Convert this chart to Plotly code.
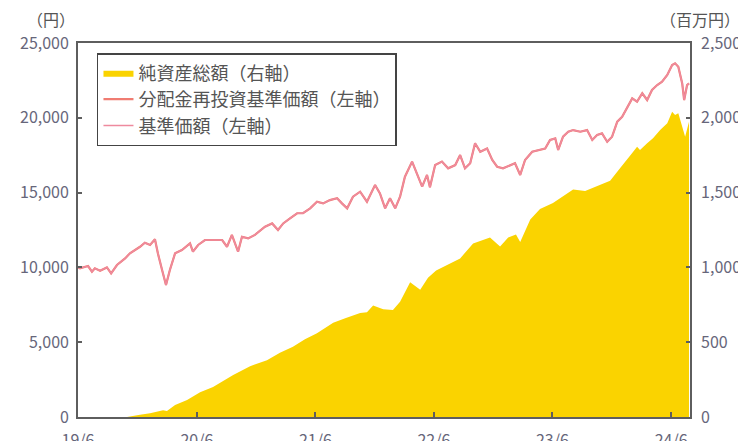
import plotly.graph_objects as go

# 基準価額 / 分配金再投資基準価額 (円, 左軸)
price_dates = [
    "2019-06-30", "2019-07-06", "2019-07-31", "2019-08-12", "2019-08-21", "2019-09-06",
    "2019-09-27", "2019-10-10", "2019-10-28", "2019-11-22", "2019-12-07", "2019-12-23",
    "2020-01-07", "2020-01-22", "2020-02-07", "2020-02-22", "2020-03-02", "2020-03-15",
    "2020-03-27", "2020-04-08", "2020-04-24", "2020-05-15", "2020-06-09", "2020-06-18",
    "2020-07-04", "2020-07-25", "2020-08-25", "2020-09-16", "2020-10-01", "2020-10-16",
    "2020-11-04", "2020-11-16", "2020-12-05", "2020-12-26", "2021-01-26", "2021-02-17",
    "2021-03-07", "2021-03-23", "2021-04-13", "2021-05-05", "2021-05-23", "2021-06-14",
    "2021-07-05", "2021-07-24", "2021-08-14", "2021-09-05", "2021-09-20", "2021-10-06",
    "2021-10-24", "2021-11-15", "2021-12-06", "2021-12-31", "2022-01-15", "2022-01-31",
    "2022-02-15", "2022-03-03", "2022-03-18", "2022-04-02", "2022-04-24", "2022-05-09",
    "2022-05-25", "2022-06-09", "2022-06-18", "2022-07-04", "2022-07-25", "2022-08-13",
    "2022-09-04", "2022-09-19", "2022-10-04", "2022-10-20", "2022-11-04", "2022-11-20",
    "2022-12-11", "2022-12-27", "2023-01-11", "2023-01-29", "2023-02-20", "2023-03-07",
    "2023-03-23", "2023-04-07", "2023-04-29", "2023-05-23", "2023-06-08", "2023-06-23",
    "2023-07-09", "2023-07-18", "2023-08-02", "2023-08-18", "2023-09-02", "2023-09-24",
    "2023-10-15", "2023-10-31", "2023-11-15", "2023-11-30", "2023-12-16", "2023-12-31",
    "2024-01-16", "2024-01-31", "2024-02-15", "2024-03-02", "2024-03-17", "2024-04-02",
    "2024-04-17", "2024-05-02", "2024-05-18", "2024-06-02", "2024-06-18", "2024-07-03",
    "2024-07-12", "2024-07-22", "2024-08-03", "2024-08-09", "2024-08-18", "2024-08-24",
]
price_values = [
    10000, 9940, 10090, 9710, 9940, 9780,
    10000, 9600, 10160, 10600, 10940, 11160,
    11380, 11650, 11500, 11880, 10940, 9830,
    8820, 9830, 10940, 11160, 11600, 11050,
    11500, 11830, 11830, 11830, 11380, 12170,
    11050, 12050, 11940, 12170, 12720, 12940,
    12500, 12940, 13280, 13620, 13620, 13950,
    14390, 14280, 14500, 14620, 14280, 13950,
    14730, 15060, 14390, 15510, 14950, 13950,
    14620, 13950, 14730, 16060, 17070, 16290,
    15400, 16180, 15350, 16840, 17070, 16620,
    16840, 17510, 16620, 16960, 18300, 17730,
    17950, 17180, 16730, 16620, 16840, 16960,
    16180, 17180, 17730, 17850, 17950, 18520,
    18620, 17850, 18740, 19070, 19180, 19070,
    19180, 18520, 18850, 18960, 18400, 18740,
    19740, 20070, 20630, 21300, 21080, 21640,
    21190, 21860, 22190, 22410, 22860, 23530,
    23640, 23410, 22300, 21190, 22190, 22300,
]

# 純資産総額 (百万円, 右軸)
nav_dates = [
    "2019-06-30", "2019-11-28", "2020-01-07", "2020-02-07", "2020-03-18", "2020-03-30",
    "2020-04-24", "2020-05-31", "2020-07-10", "2020-08-19", "2020-10-20", "2020-12-11",
    "2021-02-01", "2021-03-13", "2021-04-22", "2021-05-29", "2021-07-05", "2021-08-24",
    "2021-09-30", "2021-11-15", "2021-12-06", "2021-12-25", "2022-01-25", "2022-02-24",
    "2022-03-18", "2022-04-18", "2022-05-19", "2022-06-12", "2022-07-07", "2022-08-13",
    "2022-09-19", "2022-10-29", "2022-12-20", "2023-01-20", "2023-02-14", "2023-03-10",
    "2023-03-23", "2023-04-23", "2023-05-23", "2023-07-02", "2023-09-02", "2023-10-09",
    "2023-11-24", "2023-12-25", "2024-01-25", "2024-02-15", "2024-03-02", "2024-03-17",
    "2024-03-26", "2024-04-17", "2024-05-05", "2024-05-27", "2024-06-18", "2024-07-03",
    "2024-07-12", "2024-07-22", "2024-08-03", "2024-08-12", "2024-08-24",
]
nav_values = [
    0, 0, 15, 25, 45, 40,
    80, 113, 165, 200, 280, 340,
    380, 430, 470, 520, 560, 630,
    660, 695, 700, 745, 720, 715,
    770, 900, 850, 930, 980, 1020,
    1060, 1160, 1200, 1140, 1200, 1220,
    1170, 1320, 1390, 1430, 1520, 1510,
    1550, 1580, 1664, 1718, 1764, 1807,
    1785, 1830, 1863, 1918, 1963, 2041,
    2019, 2030, 1940, 1873, 1974,
]

tick_dates = ["2019-06-30", "2020-06-30", "2021-06-30", "2022-06-30", "2023-06-30", "2024-06-30"]
tick_labels = ["19/6", "20/6", "21/6", "22/6", "23/6", "24/6"]
left_ticks = [0, 5000, 10000, 15000, 20000, 25000]
right_ticks = [0, 500, 1000, 1500, 2000, 2500]

FONT = "Noto Sans CJK JP"
AXC = "#5e5e5e"
TXT = "#66667a"

# the page adds an 8px body margin; margins below are in figure pixels
OFF = 8
W, H = 746, 441
ML, MT = 78 - OFF, 43 - OFF
MR = W - (690 - OFF)
MB = H - (417 - OFF)

fig = go.Figure()
fig.add_trace(go.Scatter(
    x=nav_dates, y=nav_values, name="純資産総額（右軸）", yaxis="y",
    mode="lines", fill="tozeroy", fillcolor="#FAD300",
    line=dict(width=0, color="#FAD300"),
))
fig.add_trace(go.Scatter(
    x=price_dates, y=price_values, name="分配金再投資基準価額（左軸）", yaxis="y2",
    mode="lines", line=dict(width=2.2, color="#F07C72"),
))
fig.add_trace(go.Scatter(
    x=price_dates, y=price_values, name="基準価額（左軸）", yaxis="y2",
    mode="lines", line=dict(width=1.5, color="#EE8A9E"),
))

common_axis = dict(
    ticks="inside", tickcolor=AXC, tickwidth=1.5,
    showline=True, linecolor=AXC, linewidth=1.8,
    showgrid=False, zeroline=False, automargin=False,
    tickfont=dict(family=FONT, size=16, color=TXT),
)

plot_w = W - ML - MR
plot_h = H - MT - MB

def px_to_paper(px, py):
    return (px - OFF - ML) / plot_w, (H - MB - (py - OFF)) / plot_h

ux1, uy1 = px_to_paper(51, 19)
ux2, uy2 = px_to_paper(700, 19)

fig.update_layout(
    width=W, height=H,
    margin=dict(l=ML, r=MR, t=MT, b=MB, autoexpand=False),
    paper_bgcolor="white", plot_bgcolor="white",
    font=dict(family=FONT, size=17, color=TXT),
    showlegend=True,
    legend=dict(
        x=0.031, y=0.973, xanchor="left", yanchor="top",
        bgcolor="white", bordercolor="#444444", borderwidth=1.5,
        font=dict(family=FONT, size=18, color="#555555"),
        tracegroupgap=0, itemwidth=30,
    ),
    xaxis=dict(
        type="date", range=["2019-06-30", "2024-08-27"],
        tickvals=tick_dates, ticktext=tick_labels, ticklen=5,
        mirror=True, ticklabelstandoff=8,
        **common_axis,
    ),
    yaxis=dict(
        side="right", range=[0, 2500], tickvals=right_ticks, tickformat=",",
        ticklen=4, ticklabelstandoff=6,
        **common_axis,
    ),
    yaxis2=dict(
        side="left", overlaying="y", range=[0, 25000], tickvals=left_ticks, tickformat=",",
        ticklen=4, ticklabelstandoff=4,
        **common_axis,
    ),
    annotations=[
        dict(text="（円）", x=ux1, y=uy1, xref="paper", yref="paper", showarrow=False,
             xanchor="center", yanchor="middle",
             font=dict(family=FONT, size=16, color="#555555")),
        dict(text="（百万円）", x=ux2, y=uy2, xref="paper", yref="paper", showarrow=False,
             xanchor="center", yanchor="middle",
             font=dict(family=FONT, size=16, color="#555555")),
    ],
)

fig.write_html("out.html")
